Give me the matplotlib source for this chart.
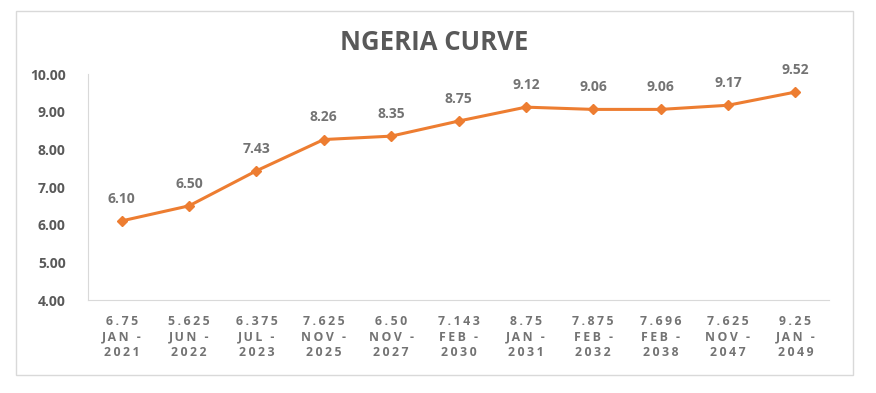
import matplotlib.pyplot as plt
from matplotlib.patches import Rectangle

coupons = ["6.75", "5.625", "6.375", "7.625", "6.50", "7.143", "8.75", "7.875", "7.696", "7.625", "9.25"]
months = ["JAN", "JUN", "JUL", "NOV", "NOV", "FEB", "JAN", "FEB", "FEB", "NOV", "JAN"]
years = ["2021", "2022", "2023", "2025", "2027", "2030", "2031", "2032", "2038", "2047", "2049"]
yields = [6.10, 6.50, 7.43, 8.26, 8.35, 8.75, 9.12, 9.06, 9.06, 9.17, 9.52]

orange = "#ED7D31"
grey = "#595959"
plt.rcParams["font.family"] = ["Open Sans", "DejaVu Sans"]


def spaced(s):
    # mimic the wide letter spacing of the original axis labels
    return "\u2009".join(s)


fig = plt.figure(figsize=(8.76, 3.93), dpi=100)
# outer chart box
fig.patches.append(Rectangle((16 / 876, 1 - 375 / 393), (853 - 16) / 876, (375 - 11) / 393,
                             transform=fig.transFigure, fill=False, edgecolor="#d9d9d9", lw=1))

ax = fig.add_axes([88 / 876, 1 - 300 / 393, (829 - 88) / 876, (300 - 74) / 393])
x = list(range(len(yields)))
ax.plot(x, yields, color=orange, lw=2.2, marker="D", markersize=5.5)

for xi, v in zip(x, yields):
    ax.annotate(f"{v:.2f}", (xi, v), xytext=(0, 11), textcoords="offset points",
                ha="center", va="bottom", fontsize=10, fontweight="bold", color="#737373")

ax.set_xlim(-0.5, len(yields) - 0.5)
ax.set_ylim(4, 10)
ticks = [4, 5, 6, 7, 8, 9, 10]
ax.set_yticks(ticks)
ax.set_yticklabels([f"{t:.2f}" for t in ticks], fontsize=10,
                   fontweight="bold", color=grey)
ax.set_xticks(x)
ax.set_xticklabels([spaced(c) + "\n" + spaced(m + " -") + "\n" + spaced(y)
                    for c, m, y in zip(coupons, months, years)],
                   fontsize=8.8, fontweight="bold", color="#737373", linespacing=1.25)
ax.tick_params(length=0)
ax.tick_params(axis="y", pad=16)
ax.tick_params(axis="x", pad=11)

for s in ["top", "right"]:
    ax.spines[s].set_visible(False)
ax.spines["left"].set_color("#d9d9d9")
ax.spines["bottom"].set_color("#d9d9d9")

fig.text(434 / 876, 1 - 42 / 393, "NGERIA CURVE", ha="center", va="center",
         fontsize=18.5, fontweight="bold", color=grey)

fig.savefig("out.png", dpi=100)
